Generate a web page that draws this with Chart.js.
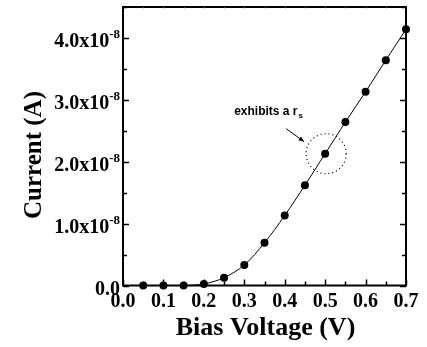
<!DOCTYPE html>
<html>
<head>
<meta charset="utf-8">
<script src="https://cdn.jsdelivr.net/npm/chart.js@4/dist/chart.umd.min.js"></script>
<style>
  html, body { margin: 0; padding: 0; background: #fff; }
  #wrap { width: 427px; height: 347px; position: relative; }
</style>
</head>
<body>
<div id="wrap"><canvas id="iv"></canvas></div>
<script>
// bias voltage (V) and measured current (A)
const voltage = [0.05, 0.10, 0.15, 0.20, 0.25, 0.30, 0.35, 0.40, 0.45, 0.50, 0.55, 0.60, 0.65, 0.70];
const current = [0, 0, 0, 0.24e-9, 1.26e-9, 3.3e-9, 6.9e-9, 11.3e-9, 16.2e-9, 21.3e-9, 26.4e-9, 31.3e-9, 36.4e-9, 41.4e-9];

const xTicks = [0.0, 0.1, 0.2, 0.3, 0.4, 0.5, 0.6, 0.7];
const yTicks = [0, 1e-8, 2e-8, 3e-8, 4e-8];
const yTickLabels = ["0.0", "1.0x10", "2.0x10", "3.0x10", "4.0x10"];
const yTickExp = ["", "-8", "-8", "-8", "-8"];

const note = { x: 0.5, y: 21.3e-9, text: "exhibits a r", sub: "s" };

const serif = '"Liberation Serif", "Times New Roman", serif';

const frame = {
  id: "frame",
  afterDatasetsDraw(chart) {
    const { ctx, chartArea: a, scales: { x, y } } = chart;
    ctx.save();
    ctx.strokeStyle = "#000";
    ctx.fillStyle = "#000";

    // frame
    ctx.lineWidth = 2;
    ctx.strokeRect(a.left, a.top, a.right - a.left, a.bottom - a.top);

    // x ticks (inward), major every 0.1, minor every 0.05
    ctx.lineWidth = 1.5;
    for (let i = 0; i <= 14; i++) {
      const px = Math.round(x.getPixelForValue(i * 0.05)) + 0.5;
      const len = i % 2 === 0 ? 6 : 4;
      ctx.beginPath();
      ctx.moveTo(px, a.bottom);
      ctx.lineTo(px, a.bottom - len);
      ctx.stroke();
    }
    ctx.lineWidth = 0.5;
    ctx.strokeStyle = "#999";
    for (let i = 1; i < 14; i++) {
      const px = Math.round(x.getPixelForValue(i * 0.05)) + 0.5;
      ctx.beginPath();
      ctx.moveTo(px, a.top);
      ctx.lineTo(px, a.top + 2);
      ctx.stroke();
    }
    ctx.strokeStyle = "#000";

    // y ticks, both sides
    ctx.lineWidth = 1.5;
    for (let i = 0; i <= 9; i++) {
      const py = Math.round(y.getPixelForValue(i * 0.5e-8)) + 0.5;
      const len = i % 2 === 0 ? 6 : 4;
      ctx.beginPath();
      ctx.moveTo(a.left, py);
      ctx.lineTo(a.left + len, py);
      ctx.moveTo(a.right, py);
      ctx.lineTo(a.right - len, py);
      ctx.stroke();
    }

    // x tick labels
    ctx.font = "bold 20px " + serif;
    ctx.textAlign = "center";
    ctx.textBaseline = "alphabetic";
    xTicks.forEach((v) => {
      ctx.fillText(v.toFixed(1), x.getPixelForValue(v), a.bottom + 21.5);
    });

    // y tick labels with superscript exponent
    yTicks.forEach((v, i) => {
      const py = y.getPixelForValue(v);
      const right = a.left - 3;
      ctx.font = "bold 13px " + serif;
      const ew = yTickExp[i] ? ctx.measureText(yTickExp[i]).width : 0;
      if (yTickExp[i]) {
        ctx.textAlign = "right";
        ctx.fillText(yTickExp[i], right, py);
      }
      ctx.font = "bold 20px " + serif;
      ctx.textAlign = "right";
      ctx.fillText(yTickLabels[i], right - ew, py + 9);
    });

    // axis titles
    ctx.font = "bold 26px " + serif;
    ctx.textAlign = "center";
    ctx.fillText("Bias Voltage (V)", (a.left + a.right) / 2 + 1, 335);
    ctx.font = "bold 25px " + serif;
    ctx.save();
    ctx.translate(41, 155);
    ctx.rotate(-Math.PI / 2);
    ctx.fillText("Current (A)", 0, 0);
    ctx.restore();

    // annotation: dotted circle, arrow and text
    const cx = x.getPixelForValue(note.x) + 1;
    const cy = y.getPixelForValue(note.y);
    ctx.lineWidth = 1.2;
    ctx.setLineDash([1, 3]);
    ctx.beginPath();
    ctx.arc(cx, cy, 20, 0, Math.PI * 2);
    ctx.stroke();
    ctx.setLineDash([]);

    const ax0 = cx - 40, ay0 = cy - 25, ax1 = cx - 22, ay1 = cy - 12;
    ctx.lineWidth = 1;
    ctx.beginPath();
    ctx.moveTo(ax0, ay0);
    ctx.lineTo(ax1, ay1);
    ctx.stroke();
    const ang = Math.atan2(ay1 - ay0, ax1 - ax0);
    ctx.beginPath();
    ctx.moveTo(ax1, ay1);
    ctx.lineTo(ax1 - 6 * Math.cos(ang - 0.4), ay1 - 6 * Math.sin(ang - 0.4));
    ctx.lineTo(ax1 - 6 * Math.cos(ang + 0.4), ay1 - 6 * Math.sin(ang + 0.4));
    ctx.closePath();
    ctx.fill();

    ctx.font = "bold 12px 'Liberation Sans', Arial, sans-serif";
    ctx.textAlign = "left";
    const tx = cx - 92, ty = cy - 39;
    ctx.fillText(note.text, tx, ty);
    const tw = ctx.measureText(note.text).width;
    ctx.font = "bold 8px 'Liberation Sans', Arial, sans-serif";
    ctx.fillText(note.sub, tx + tw + 1, ty + 3);

    ctx.restore();
  }
};

new Chart(document.getElementById("iv"), {
  type: "line",
  data: {
    datasets: [{
      data: voltage.map((v, i) => ({ x: v, y: current[i] })),
      borderColor: "#000",
      borderWidth: 1,
      backgroundColor: "#000",
      pointRadius: 4,
      pointHoverRadius: 4,
      pointBackgroundColor: "#000",
      pointBorderWidth: 0,
      tension: 0.3,
      clip: false,
    }],
  },
  options: {
    responsive: true,
    maintainAspectRatio: false,
    animation: false,
    events: [],
    layout: { padding: { left: 123, right: 21, top: 7, bottom: 61.5 } },
    plugins: { legend: { display: false }, tooltip: { enabled: false } },
    scales: {
      x: { type: "linear", min: 0, max: 0.7, display: false },
      y: { type: "linear", min: 0, max: 4.5e-8, display: false },
    },
  },
  plugins: [frame],
});
</script>
</body>
</html>
